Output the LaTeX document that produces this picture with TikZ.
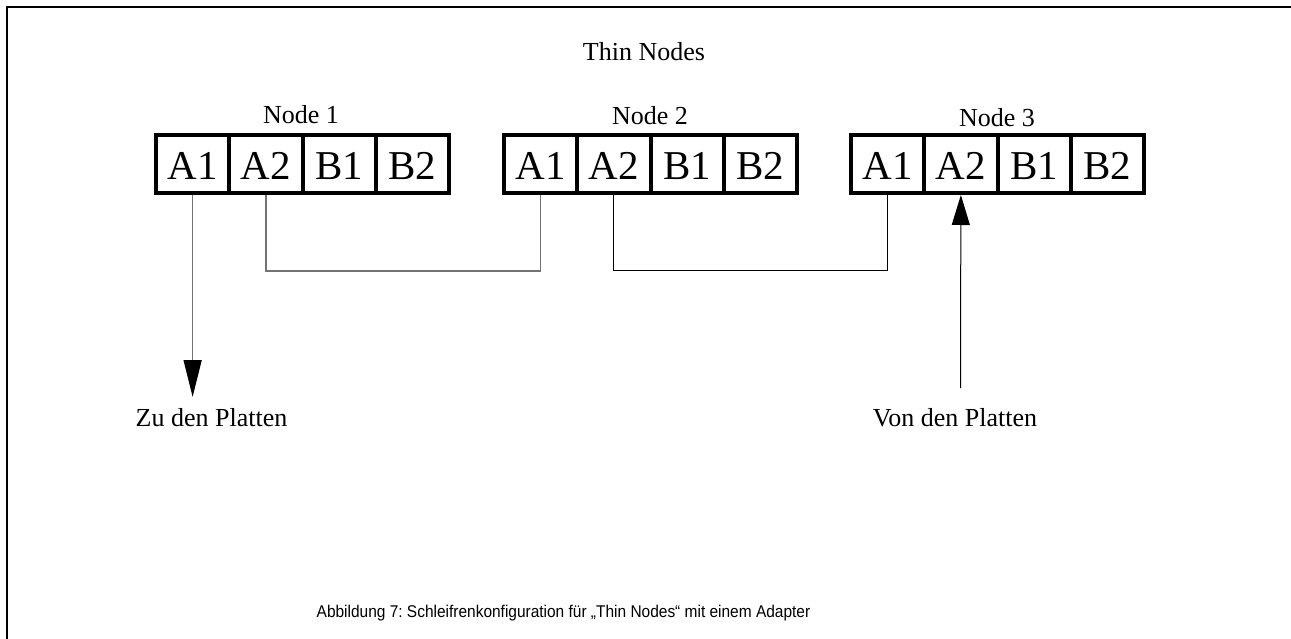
\documentclass[tikz,border=0pt]{standalone}
\usepackage{fontspec}
\setmainfont{Liberation Serif}
\newfontfamily\captionfont{Liberation Sans}
\usetikzlibrary{arrows.meta}
\frenchspacing

\tikzset{
  cell/.style={draw, line width=4pt, minimum width=73.25pt, minimum height=58pt,
    inner sep=0pt, text height=32pt, text depth=0pt,
    font=\fontsize{41}{41}\selectfont},
  label/.style={anchor=base, inner sep=0pt, font=\fontsize{26}{26}\selectfont},
  wire/.style={line width=1pt, black},
  softwire/.style={line width=1.6pt, black!55},
  tip/.style={-{Triangle[length=37pt,width=18pt,color=black]}},
}

\begin{document}
\begin{tikzpicture}[x=1pt,y=-1pt]
  \useasboundingbox (0,0) rectangle (1291,639);

  % page frame (top and left edges)
  \draw[line width=2pt] (7,639) -- (7,7) -- (1291,7);

  \node[label] (title) at (644,61) {Thin Nodes};

  % three thin nodes with four adapter ports each
  \foreach \n/\x in {1/156, 2/504, 3/851} {
    \foreach \p [count=\k from 0] in {A1,A2,B1,B2} {
      \node[cell] (n\n\p) at ({\x+36.625+73.25*\k},164) {\p};
    }
  }

  \node[label] (lab1) at (301,124) {Node 1};
  \node[label] (lab2) at (650,125) {Node 2};
  \node[label] (lab3) at (997,127) {Node 3};

  % loop connections between the nodes
  \draw[softwire] (n1A2.south) -- ++(0,76) -| (n2A1.south);
  \draw[wire] (n2A2.south) -- ++(0,76) -| (n3A1.south);

  % to and from the disks
  \node[label] (zu) at (211.5,426) {Zu den Platten};
  \node[label] (von) at (955,426) {Von den Platten};
  \coordinate (zutip) at (193,397);
  \coordinate (vonfoot) at (960.5,388);
  \draw[softwire, tip] (n1A1.south) -- (n1A1.south |- zutip);
  \draw[wire, -{Triangle[length=30pt,width=18pt]}] (vonfoot) -- (n3A2.south);

  \node[anchor=base, inner sep=0pt, font=\captionfont\fontsize{17}{17}\selectfont] (cap)
    at (563.5,617) {\scalebox{0.91}[1]{Abbildung 7: Schleifrenkonfiguration für „Thin Nodes“ mit einem Adapter}};
\end{tikzpicture}
\end{document}
